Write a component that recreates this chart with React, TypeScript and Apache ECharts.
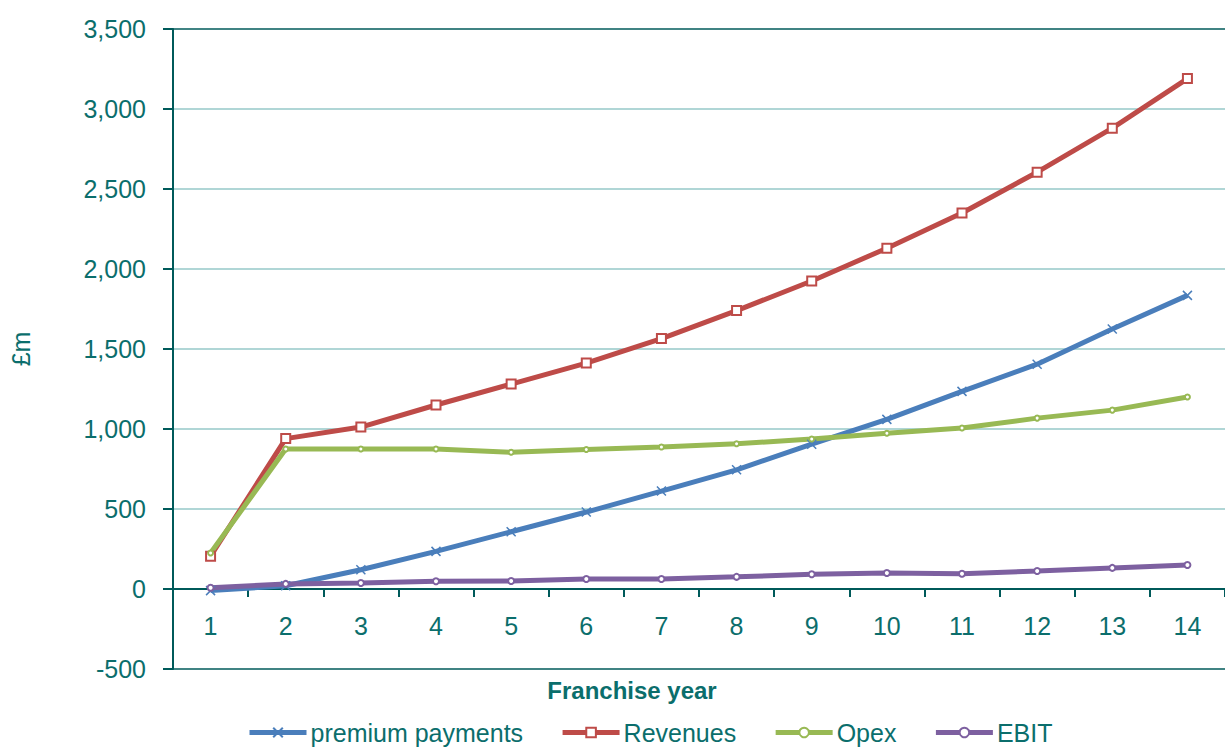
import React, { useEffect, useRef } from "react";
import * as echarts from "echarts";

const years = ["1", "2", "3", "4", "5", "6", "7", "8", "9", "10", "11", "12", "13", "14"];
const premiumPayments = [-10, 20, 120, 235, 358, 481, 612, 745, 905, 1060, 1235, 1405, 1625, 1835];
const revenues = [205, 940, 1012, 1150, 1281, 1412, 1565, 1740, 1925, 2130, 2350, 2605, 2880, 3190];
const opex = [225, 875, 875, 875, 855, 872, 887, 908, 937, 973, 1006, 1068, 1118, 1200];
const ebit = [8, 32, 38, 48, 50, 62, 63, 76, 92, 100, 95, 112, 132, 150];
const seriesNames = ["premium payments", "Revenues", "Opex", "EBIT"];

const FONT = "'Liberation Sans', Arial, sans-serif";
const TEXT = "#0b6e6c";
const AXIS = "#005a5a";
const GRID = "#96c8c8";

export default function App() {
  const ref = useRef<HTMLDivElement>(null);
  useEffect(() => {
    if (!ref.current) return;
    const chart = echarts.init(ref.current, undefined, { renderer: "svg" });
    const mk = (name: string, data: number[], color: string, symbol: string, size: number, extra: any = {}) => ({
      name,
      type: "line",
      data,
      symbol,
      symbolSize: size,
      showSymbol: true,
      lineStyle: { color, width: 5 },
      itemStyle: { color: "#ffffff", borderColor: color, borderWidth: 2 },
      emphasis: { disabled: true },
      ...extra,
    });
    chart.setOption({
      animation: false,
      textStyle: { fontFamily: FONT },
      grid: { left: 172, top: 29, bottom: 80, right: -11, containLabel: false },
      legend: {
        data: seriesNames,
        left: 247,
        top: 720,
        padding: 0,
        itemWidth: 57,
        itemHeight: 12,
        itemGap: 37,
        lineStyle: { width: 5 },
        textStyle: { color: TEXT, fontSize: 25, fontFamily: FONT, padding: [0, 0, 0, -1] },
      },
      graphic: [
        {
          type: "text",
          x: 632,
          y: 690,
          style: {
            text: "Franchise year",
            fill: TEXT,
            font: `bold 24px ${FONT}`,
            textAlign: "center",
            textVerticalAlign: "middle",
          },
        },
      ],
      xAxis: {
        type: "category",
        data: years,
        boundaryGap: true,
        axisLine: { onZero: true, lineStyle: { color: AXIS, width: 2 } },
        axisTick: { show: true, length: 8, lineStyle: { color: AXIS, width: 2 } },
        axisLabel: { color: TEXT, fontSize: 25, margin: -56, fontFamily: FONT },
        splitLine: { show: false },
      },
      yAxis: {
        type: "value",
        min: -500,
        max: 3500,
        interval: 500,
        name: "£m",
        nameLocation: "middle",
        nameGap: 140,
        nameRotate: 90,
        nameTextStyle: { color: TEXT, fontSize: 25, fontFamily: FONT },
        axisLine: { show: true, lineStyle: { color: AXIS, width: 2 } },
        axisTick: { show: true, length: 10, lineStyle: { color: AXIS, width: 2 } },
        axisLabel: {
          color: TEXT,
          fontSize: 25,
          margin: 27,
          fontFamily: FONT,
          formatter: (v: number) => v.toLocaleString("en-US"),
        },
        splitLine: {
          show: true,
          lineStyle: {
            color: [AXIS, GRID, GRID, GRID, GRID, GRID, GRID, GRID, AXIS],
            width: 1.5,
          },
        },
      },
      series: [
        mk(seriesNames[0], premiumPayments, "#4a7ebb", "path://M0,0L10,10M10,0L0,10", 9, {
          itemStyle: { color: "#4a7ebb", borderColor: "#4a7ebb", borderWidth: 1.5 },
        }),
        mk(seriesNames[1], revenues, "#be4b48", "rect", 9),
        mk(seriesNames[2], opex, "#98b954", "circle", 5),
        mk(seriesNames[3], ebit, "#7d60a0", "circle", 6),
      ],
    });
    return () => chart.dispose();
  }, []);
  return (
    <div
      ref={ref}
      style={{ position: "fixed", left: 0, top: 0, width: 1225, height: 749, background: "#ffffff" }}
    />
  );
}
